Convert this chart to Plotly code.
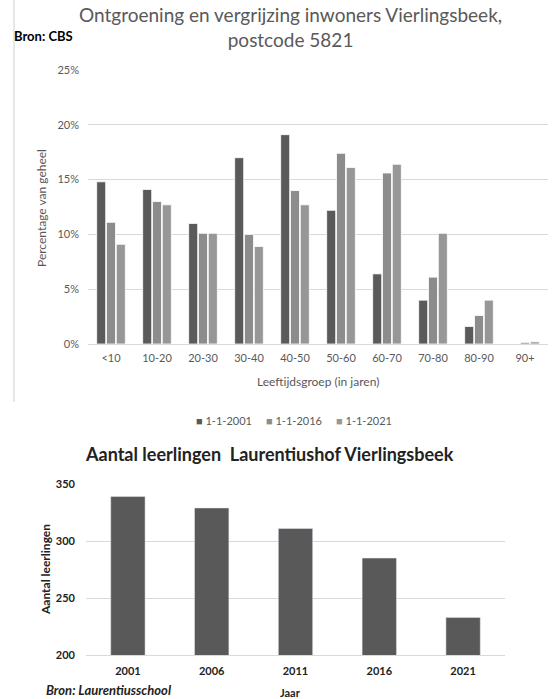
import plotly.graph_objects as go

age_groups = ["<10", "10-20", "20-30", "30-40", "40-50", "50-60", "60-70", "70-80", "80-90", "90+"]
pct_2001 = [14.8, 14.1, 11.0, 17.0, 19.1, 12.2, 6.4, 4.0, 1.6, 0.0]
pct_2016 = [11.1, 13.0, 10.1, 10.0, 14.0, 17.4, 15.6, 6.1, 2.6, 0.15]
pct_2021 = [9.1, 12.7, 10.1, 8.9, 12.7, 16.1, 16.4, 10.1, 4.0, 0.2]
series_names = ["1-1-2001", "1-1-2016", "1-1-2021"]
series_colors = ["#5a5a5a", "#8c8c8c", "#979797"]

years = ["2001", "2006", "2011", "2016", "2021"]
pupils = [339, 329, 311, 285, 233]

W, H = 552, 699
def py(y):
    return 1 - y / H
def px(x):
    return x / W

fig = go.Figure()
for name, vals, col in zip(series_names, [pct_2001, pct_2016, pct_2021], series_colors):
    fig.add_trace(go.Bar(x=age_groups, y=vals, name=name,
                         marker=dict(color=col, line=dict(color="white", width=0.8)),
                         xaxis="x", yaxis="y", offsetgroup=name))

fig.add_trace(go.Bar(x=years, y=pupils, name="leerlingen",
                     marker=dict(color="#595959"), xaxis="x2", yaxis="y2", width=0.41))

top_font = "Lato, 'Open Sans', sans-serif"
bold_font = "Lato, 'Liberation Sans', sans-serif"
grey = "#595959"
dark = "#222222"

fig.update_layout(
    width=W, height=H,
    margin=dict(l=0, r=0, t=0, b=0),
    paper_bgcolor="white", plot_bgcolor="white",
    barmode="group", bargap=0.36, bargroupgap=0.08,
    font=dict(family=top_font, color=grey, size=11),
    showlegend=False,
    xaxis=dict(domain=[px(88), px(548)], anchor="y", automargin=False, showgrid=False, showline=True,
               linecolor="#d9d9d9", linewidth=1, ticks="", ticklabelstandoff=4,
               tickfont=dict(size=11, color=grey)),
    yaxis=dict(domain=[py(344), py(70)], anchor="x", automargin=False, range=[0, 25], dtick=5, ticksuffix="%",
               showgrid=True, gridcolor="#d9d9d9", gridwidth=1, zeroline=False, showline=False,
               tickfont=dict(size=11, color=grey), ticks="", ticklabelstandoff=8),
    xaxis2=dict(domain=[px(86), px(505)], anchor="y2", automargin=False, showgrid=False, showline=True,
                linecolor="#d9d9d9", ticks="", ticklabelstandoff=6,
                tickfont=dict(family=bold_font, size=11, color=dark, weight="bold")),
    yaxis2=dict(domain=[py(655), py(484)], anchor="x2", automargin=False, range=[200, 350], dtick=50,
                showgrid=True, gridcolor="#d9d9d9", zeroline=False, showline=False, ticks="",
                ticklabelstandoff=10,
                tickfont=dict(family=bold_font, size=11, color=dark, weight="bold")),
)

def note(text, x, y, size, color, family, xanchor="center", angle=0):
    fig.add_annotation(text=text, x=px(x), y=py(y), xref="paper", yref="paper", showarrow=False,
                       font=dict(family=family, size=size, color=color), xanchor=xanchor, yanchor="middle",
                       textangle=angle)

note("Ontgroening en vergrijzing inwoners Vierlingsbeek,<br>postcode 5821", 290, 27, 19, grey, top_font)
note("<b>Bron: CBS</b>", 12, 36, 13, "#000", top_font, xanchor="left")
note("Leeftijdsgroep (in jaren)", 318, 381, 12, grey, top_font)
note("Percentage van geheel", 42, 208, 12, grey, top_font, angle=-90)

legend_text = "     ".join(f"<span style='color:{c}'>■</span> {n}" for n, c in zip(series_names, series_colors))
note(legend_text, 294, 420, 11, grey, top_font)

note("<b>Aantal leerlingen  Laurentiushof Vierlingsbeek</b>", 269, 454, 18, dark, bold_font)
note("<b>Aantal leerlingen</b>", 45, 570, 12, dark, bold_font, angle=-90)
note("<b>Jaar</b>", 290, 692, 11, dark, bold_font)
note("<b><i>Bron: Laurentiusschool</i></b>", 44, 690, 13, dark, bold_font, xanchor="left")

fig.add_shape(type="line", xref="paper", yref="paper", x0=px(14), x1=px(14), y0=py(0), y1=py(402),
              line=dict(color="#d0d0d0", width=1))

fig.write_html("out.html", config={"displayModeBar": False},
               post_script="document.body.style.margin='0';document.body.style.overflow='hidden';")
